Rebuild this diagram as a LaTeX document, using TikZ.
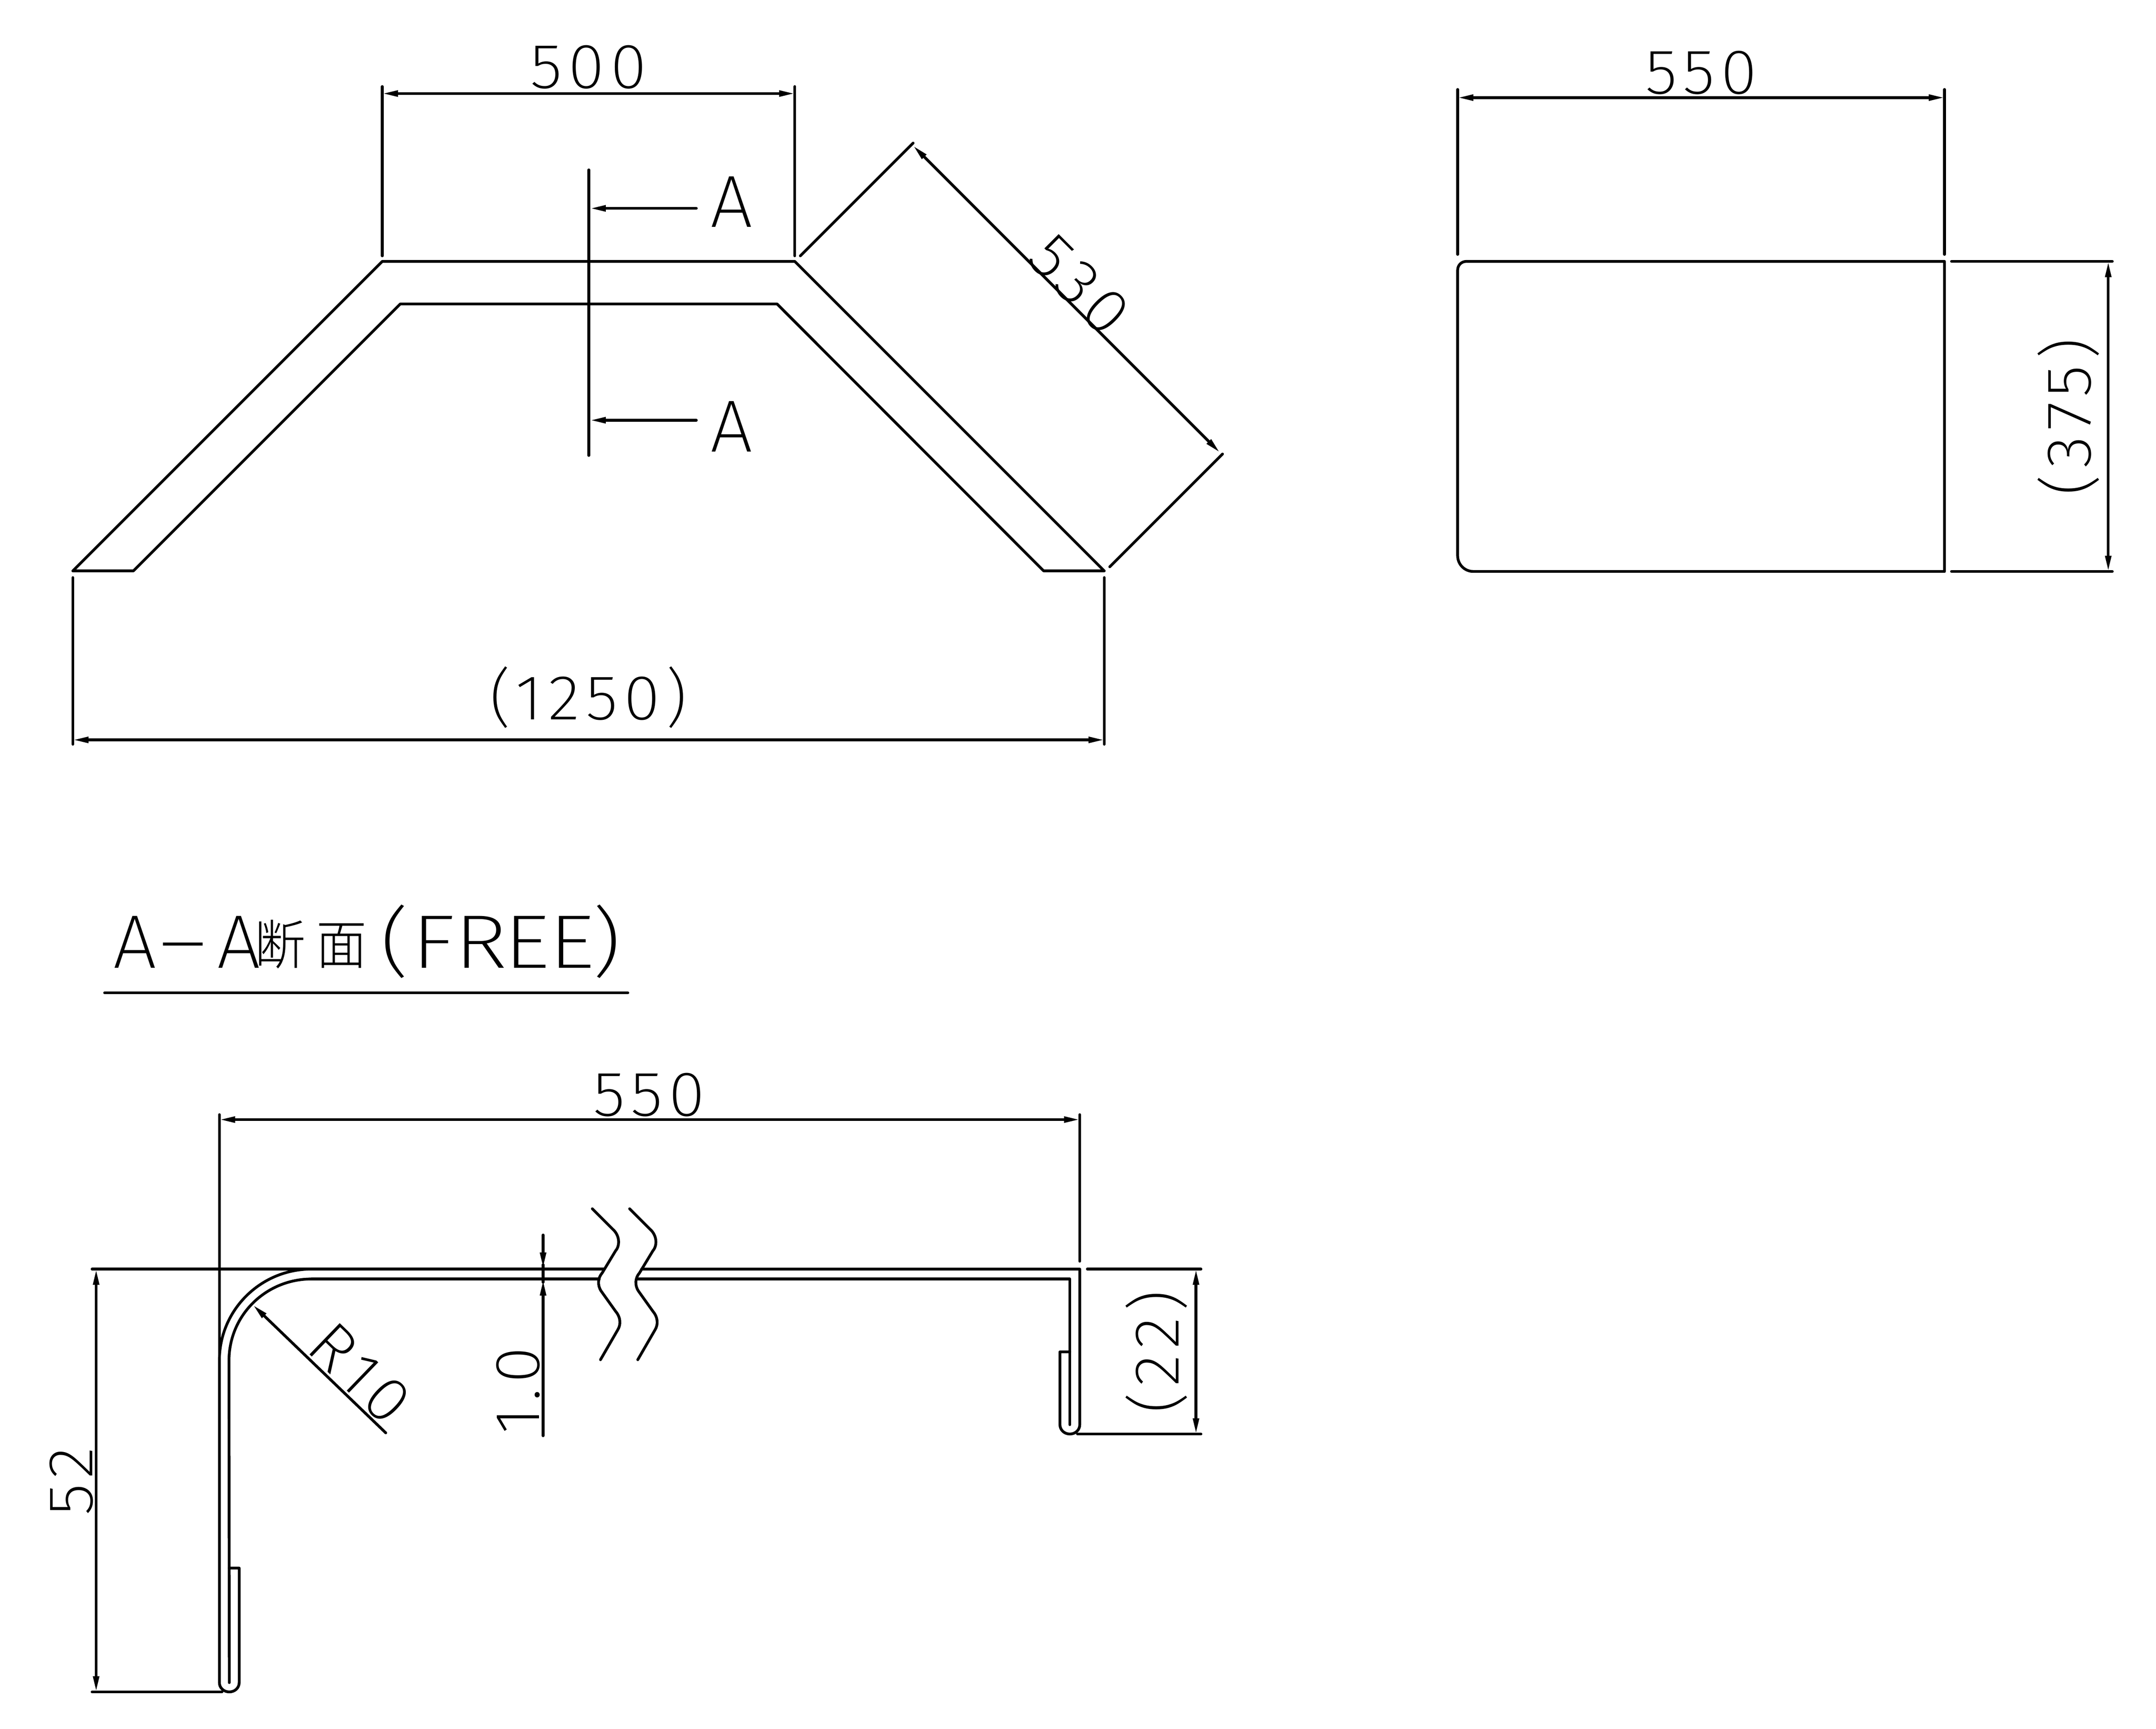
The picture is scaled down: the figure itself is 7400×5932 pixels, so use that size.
\documentclass[tikz,border=0pt]{standalone}
\usepackage{fontspec}
\usetikzlibrary{arrows.meta}
\newfontfamily\cad[FakeStretch=1.05,LetterSpace=9]{Fira Sans ExtraLight}
\newfontfamily\cadA[FakeStretch=1.02]{Fira Sans ExtraLight}
\newfontfamily\cadwide[FakeStretch=1.2]{Fira Sans ExtraLight}
\newfontfamily\cjk[FakeStretch=0.95]{Noto Sans CJK JP Light}
\newcommand{\gl}[2]{\makebox[#1cm][l]{#2}}
\tikzset{
  obj/.style={line width=.095cm,line cap=round,line join=round},
  dimline/.style={obj,{Triangle[length=.54cm,width=.2cm]}-{Triangle[length=.54cm,width=.2cm]}},
  leader/.style={obj,-{Triangle[length=.54cm,width=.2cm]}},
  dimtext/.style={inner sep=0pt,font=\cad\fontsize{62}{62}\selectfont},
  bigtext/.style={inner sep=0pt,font=\cadA\fontsize{72}{72}\selectfont}
}
\begin{document}
\begin{tikzpicture}[x=.01cm,y=-.01cm]
\path[fill=white,use as bounding box] (0,0) rectangle (7400,5932);
% --- top-left plan
\draw[obj] (250,1959) -- (1312,897) -- (2728,897) -- (3790,1959) -- (3582,1959) -- (2667,1043) -- (1374,1043) -- (458,1959) -- cycle;
\draw[obj] (1312,297) -- (1312,878);
\draw[obj] (2728,297) -- (2728,878);
\draw[dimline] (1312,321) -- (2728,321);
\node[dimtext] (t500) at (2020,231) {500};
\draw[obj] (2747,878) -- (3134,491);
\draw[obj] (3809,1945) -- (4196,1558);
\draw[dimline] (3134,500) -- (4187,1553);
\node[dimtext,rotate=-45] (t530) at (3705,977) {530};
\draw[obj] (250,1982) -- (250,2554);
\draw[obj] (3790,1982) -- (3790,2554);
\draw[dimline] (250,2539) -- (3790,2539);
\node[dimtext] (t1250) at (2020,2393) {(1250)};
\draw[obj] (2021,583) -- (2021,1563);
\draw[leader] (2390,715) -- (2025,715);
\draw[leader] (2390,1442) -- (2025,1442);
\node[bigtext] (ta1) at (2511,693) {A};
\node[bigtext] (ta2) at (2511,1464) {A};
% --- top-right plan
\draw[obj] (5033,897) -- (6674,897) -- (6674,1961) -- (5057,1961) .. controls (5027,1961) and (5003,1937) .. (5003,1907) -- (5003,927) .. controls (5003,910) and (5016,897) .. cycle;
\draw[obj] (5003,307) -- (5003,873);
\draw[obj] (6674,307) -- (6674,873);
\draw[dimline] (5003,335) -- (6674,335);
\node[dimtext] (t550a) at (5839,250) {550};
\draw[obj] (6698,897) -- (7250,897);
\draw[obj] (6698,1961) -- (7250,1961);
\draw[dimline] (7236,897) -- (7236,1961);
\node[dimtext,rotate=90] (t375) at (7100,1430) {(375)};
% --- section title
\node[inner sep=0pt,anchor=base west,font=\cadA\fontsize{74}{74}\selectfont] (title) at (388,3322) {\gl{1.58}{A}\gl{1.99}{\cadwide –}\gl{1.28}{A}{\cjk\fontsize{52}{52}\selectfont\gl{2.11}{\raisebox{.13cm}{断}}\gl{2.20}{\raisebox{.13cm}{面}}}\cadwide\gl{1.08}{(}\gl{1.45}{F}\gl{1.70}{R}\gl{1.54}{E}\gl{1.48}{E})};
\draw[obj] (359,3407) -- (2155,3407);
% --- section
\draw[obj] (753,3825) -- (753,4644);
\draw[obj] (3706,3825) -- (3706,4328);
\draw[dimline] (753,3842) -- (3706,3842);
\node[dimtext] (t550b) at (2228,3757) {550};
\draw[obj] (316,4355) -- (2072,4355);
\draw[obj] (2202,4355) -- (3706,4355) -- (3706,4889) .. controls (3706,4907) and (3691,4921) .. (3672,4921) .. controls (3653,4921) and (3638,4907) .. (3638,4889) -- (3638,4639) -- (3672,4639);
\draw[obj] (2186,4389) -- (3672,4389) -- (3672,4889);
\draw[obj] (1069,4389) -- (2057,4389);
\draw[obj] (1069,4355) .. controls (895,4355) and (753,4495) .. (753,4669) -- (753,5774) .. controls (753,5792) and (768,5806) .. (787,5806) .. controls (806,5806) and (821,5792) .. (821,5774) -- (821,5381) -- (787,5381);
\draw[obj] (1069,4389) .. controls (913,4389) and (786,4513) .. (786,4669) -- (787,5774);
\draw[obj] (316,5806) -- (762,5806);
\draw[dimline] (330,4355) -- (330,5806);
\node[dimtext,rotate=90] (t52) at (245,5083) {52};
\draw[obj] (3732,4355) -- (4122,4355);
\draw[obj] (3698,4921) -- (4122,4921);
\draw[dimline] (4105,4355) -- (4105,4921);
\node[dimtext,rotate=90] (t22) at (3969,4639) {(22)};
\draw[leader] (1324,4917) -- (868,4478);
\node[dimtext,rotate=-44] (tr10) at (1235,4712) {R10};
% break marks
\foreach \dx in {0,128}{
\draw[obj,shift={(\dx,0)}] (2033,4148) -- (2103,4218) .. controls (2128,4240) and (2128,4275) .. (2113,4292) -- (2067,4368) .. controls (2052,4385) and (2050,4410) .. (2063,4430) -- (2113,4500) .. controls (2130,4520) and (2132,4545) .. (2120,4564) -- (2061,4666);
}
% 1.0
\draw[leader] (1864,4238) -- (1864,4352);
\draw[obj] (1864,4340) -- (1864,4400);
\draw[leader] (1864,4927) -- (1864,4392);
\node[dimtext,rotate=90] (t10) at (1779,4772) {1.0};
\end{tikzpicture}
\end{document}
